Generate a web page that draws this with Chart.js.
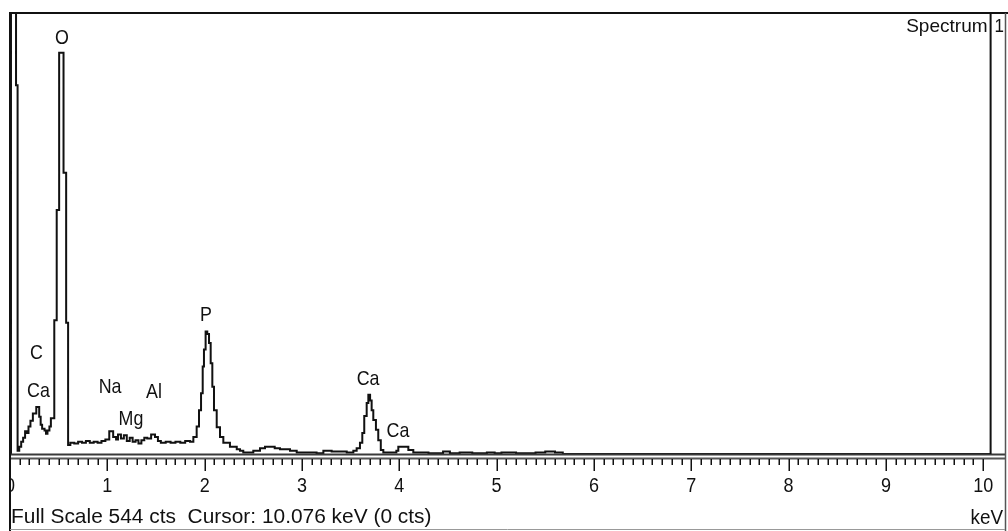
<!DOCTYPE html>
<html>
<head>
<meta charset="utf-8">
<script src="https://cdn.jsdelivr.net/npm/chart.js@4/dist/chart.umd.min.js"></script>
<style>
  html, body { margin: 0; padding: 0; background: #ffffff; }
  #wrap { width: 1008px; height: 531px; position: relative; }
  canvas { display: block; }
</style>
</head>
<body>
<div id="wrap"><canvas id="c" width="1008" height="531"></canvas></div>
<script>
// ---- Data ----
// Step levels: each count holds from its energy until the next energy (keV)
const energyKeV = [
  0.000, 0.010, 0.062, 0.078, 0.095, 0.115, 0.135, 0.155, 0.175, 0.190,
  0.210, 0.235, 0.270, 0.300, 0.315, 0.330, 0.355, 0.370, 0.385, 0.405,
  0.420, 0.455, 0.480, 0.505, 0.550, 0.577, 0.597, 0.620, 0.660, 0.700,
  0.740, 0.780, 0.820, 0.860, 0.900, 0.940, 0.980, 1.020, 1.060, 1.090,
  1.110, 1.140, 1.170, 1.200, 1.230, 1.260, 1.290, 1.320, 1.350, 1.380,
  1.410, 1.450, 1.490, 1.520, 1.550, 1.600, 1.650, 1.700, 1.750, 1.800,
  1.850, 1.884, 1.918, 1.942, 1.963, 1.980, 1.993, 2.010, 2.027, 2.045,
  2.062, 2.079, 2.096, 2.124, 2.158, 2.192, 2.260, 2.330, 2.363, 2.397,
  2.500, 2.569, 2.620, 2.672, 2.720, 2.774, 2.877, 2.946, 3.150, 3.220,
  3.305, 3.460, 3.528, 3.562, 3.596, 3.620, 3.640, 3.665, 3.682, 3.700,
  3.716, 3.733, 3.760, 3.784, 3.810, 3.836, 3.970, 3.990, 4.076, 4.093,
  4.144, 4.300, 4.450, 4.520, 4.620, 4.750, 4.900, 4.980, 5.050, 5.200,
  5.400, 5.500, 5.600, 5.680, 10.080
];
const countsCts = [
  0, 1500, 455, 4, 9, 15, 20, 28, 26, 34,
  41, 50, 58, 46, 36, 31, 29, 25, 29, 34,
  44, 165, 301, 495, 347, 162, 11, 14, 13, 15,
  14, 16, 14, 15, 14, 16, 18, 28, 21, 18,
  24, 19, 23, 16, 20, 15, 17, 13, 17, 20,
  19, 24, 21, 16, 14, 15, 14, 15, 14, 16,
  15, 21, 34, 54, 75, 108, 129, 151, 148, 137,
  112, 83, 54, 33, 21, 14, 9, 6, 4, 2,
  4, 7, 9, 9, 7, 6, 4, 2, 1, 4,
  3, 2, 4, 7, 14, 26, 47, 63, 73, 66,
  54, 42, 30, 17, 5, 2, 4, 9, 9, 5,
  2, 1, 3, 1, 2, 1, 2, 1, 2, 1,
  2, 3, 2, 0, 0
];
// Element peak labels
const peakNames    = ['O', 'C', 'Ca', 'Na', 'Mg', 'Al', 'P', 'Ca', 'Ca'];
const peakLabelKeV = [0.534, 0.272, 0.293, 1.028, 1.243, 1.480, 2.014, 3.680, 3.987];
const peakLabelCts = [515, 126, 79, 84, 44, 78, 173, 94, 30];
// Axis
const tickValues = [0, 1, 2, 3, 4, 5, 6, 7, 8, 9, 10];
const tickLabels = ['0', '1', '2', '3', '4', '5', '6', '7', '8', '9', '10'];
const axisUnit = 'keV';
const fullScaleCts = 544;
const cursorKeV = 10.076;
const cursorCts = 0;
const xMaxKeV = 10.08;
const spectrumTitle = 'Spectrum';
const spectrumNumber = '1';

// ---- Drawing ----
const FONT = '"Liberation Sans", Arial, sans-serif';
const points = energyKeV.map((e, i) => ({ x: e, y: countsCts[i] }));

function stretchedText(ctx, text, x, y, size, sx, sy, align) {
  ctx.save();
  ctx.font = size + 'px ' + FONT;
  ctx.textBaseline = 'alphabetic';
  const w = ctx.measureText(text).width * sx;
  let left = x;
  if (align === 'center') left = x - w / 2;
  else if (align === 'right') left = x - w;
  ctx.translate(left, y);
  ctx.scale(sx, sy);
  ctx.textAlign = 'left';
  ctx.fillText(text, 0, 0);
  ctx.restore();
}

const decorations = {
  id: 'decorations',
  afterDatasetsDraw(chart) {
    const ctx = chart.ctx;
    const xs = chart.scales.x, ys = chart.scales.y;
    const area = chart.chartArea;
    const W = chart.width, H = chart.height;
    ctx.save();
    // axis double line
    ctx.strokeStyle = '#3a3a3a';
    ctx.lineWidth = 2;
    ctx.beginPath();
    ctx.moveTo(area.left, area.bottom + 0.5); ctx.lineTo(1005, area.bottom + 0.5);
    ctx.stroke();
    ctx.strokeStyle = '#555';
    ctx.beginPath();
    ctx.moveTo(area.left, area.bottom + 4.5); ctx.lineTo(1005, area.bottom + 4.5);
    ctx.stroke();
    // ticks every 0.1 keV
    ctx.strokeStyle = '#111';
    ctx.lineWidth = 1.5;
    for (let i = 0; i <= 100; i++) {
      const v = i / 10;
      const px = Math.round(xs.getPixelForValue(v)) + 0.25;
      const major = (i % 10 === 0);
      ctx.beginPath();
      ctx.moveTo(px, area.bottom + 5);
      ctx.lineTo(px, area.bottom + (major ? 17 : 11));
      ctx.stroke();
    }
    // tick labels (the 0 is clipped by the frame)
    ctx.fillStyle = '#111';
    ctx.save();
    ctx.beginPath();
    ctx.rect(area.left + 1, area.bottom + 6, W, 40);
    ctx.clip();
    tickValues.forEach((v, i) => {
      stretchedText(ctx, tickLabels[i], xs.getPixelForValue(v), 492, 18, 1.0, 1.15, 'center');
    });
    ctx.restore();
    // cursor line
    const cx = xs.getPixelForValue(cursorKeV);
    ctx.strokeStyle = '#111';
    ctx.lineWidth = 2;
    ctx.beginPath();
    ctx.moveTo(cx, area.top); ctx.lineTo(cx, area.bottom);
    ctx.stroke();
    // frame
    ctx.strokeStyle = '#111';
    ctx.lineWidth = 2;
    ctx.beginPath();
    ctx.moveTo(9, area.top); ctx.lineTo(W, area.top);
    ctx.moveTo(area.left, area.top); ctx.lineTo(area.left, H);
    ctx.stroke();
    ctx.strokeStyle = '#555';
    ctx.lineWidth = 1.5;
    ctx.beginPath();
    ctx.moveTo(1005.5, area.top); ctx.lineTo(1005.5, H);
    ctx.stroke();
    ctx.strokeStyle = '#999';
    ctx.lineWidth = 1;
    ctx.beginPath();
    ctx.moveTo(area.left, 529.5); ctx.lineTo(1005, 529.5);
    ctx.stroke();
    // peak labels
    ctx.fillStyle = '#111';
    peakNames.forEach((name, i) => {
      const px = xs.getPixelForValue(peakLabelKeV[i]);
      const py = ys.getPixelForValue(peakLabelCts[i]);
      stretchedText(ctx, name, px, py + 7, 17, 1.05, 1.18, 'center');
    });
    // spectrum title
    stretchedText(ctx, spectrumTitle, cx - 3, 32, 17, 1.12, 1.12, 'right');
    stretchedText(ctx, spectrumNumber, cx + 4, 32, 17, 1.0, 1.12, 'left');
    // status line
    const status = 'Full Scale ' + fullScaleCts + ' cts  Cursor: ' + cursorKeV.toFixed(3) + ' keV (' + cursorCts + ' cts)';
    stretchedText(ctx, status, area.left + 1, 523, 19, 1.1, 1.1, 'left');
    stretchedText(ctx, axisUnit, 1003, 524, 18, 1.05, 1.15, 'right');
    ctx.restore();
  }
};

new Chart(document.getElementById('c'), {
  type: 'line',
  data: {
    datasets: [{
      data: points,
      stepped: true,
      borderColor: '#111',
      borderWidth: 2,
      pointRadius: 0,
      fill: false,
      tension: 0
    }]
  },
  options: {
    responsive: false,
    animation: false,
    devicePixelRatio: 1,
    events: [],
    layout: { padding: { left: 10, right: 17, top: 13, bottom: 77 } },
    plugins: { legend: { display: false }, tooltip: { enabled: false }, title: { display: false } },
    scales: {
      x: { type: 'linear', min: 0, max: xMaxKeV, display: false },
      y: { type: 'linear', min: 0, max: fullScaleCts, display: false }
    }
  },
  plugins: [decorations]
});
</script>
</body>
</html>
